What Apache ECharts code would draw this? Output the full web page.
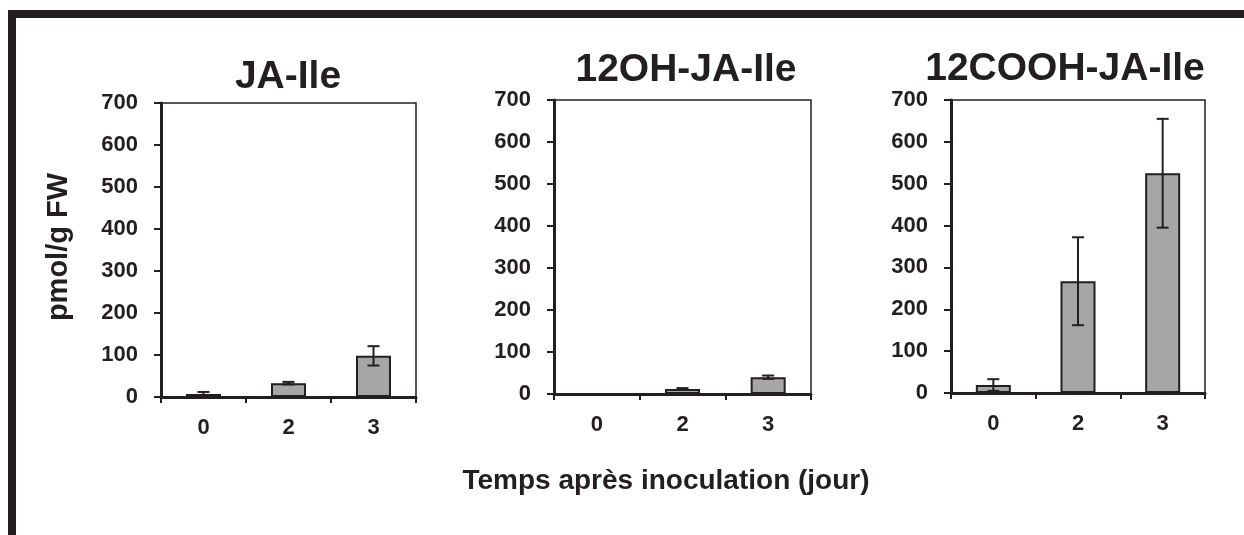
<!DOCTYPE html>
<html>
<head>
<meta charset="utf-8">
<script src="https://cdn.jsdelivr.net/npm/echarts@6/dist/echarts.min.js"></script>
<style>
html,body{margin:0;padding:0;background:#fff;}
#c{width:1244px;height:535px;}
</style>
</head>
<body>
<div id="c"></div>
<script>
const categories = ['0', '2', '3'];
const panelTitles = ['JA-Ile', '12OH-JA-Ile', '12COOH-JA-Ile'];
const jaIle = [7, 33, 98];
const jaIleErr = [5, 3, 23];
const oh = [0, 12, 40];
const ohErr = [0, 2, 4];
const cooh = [19, 267, 525];
const coohErr = [14, 105, 130];
const yTicks = [0, 100, 200, 300, 400, 500, 600, 700];

const values = [jaIle, oh, cooh];
const errors = [jaIleErr, ohErr, coohErr];

const ink = '#231f20';
const font = 'Liberation Sans, Arial, sans-serif';
const grids = [
  {left: 161, top: 103, width: 255, height: 294},
  {left: 554, top: 100, width: 257, height: 294},
  {left: 951, top: 100, width: 254, height: 293}
];
const titleCenters = [[283, 75], [681, 68], [1060, 67]];

const chart = echarts.init(document.getElementById('c'), null, {renderer: 'canvas'});

const option = {
  backgroundColor: '#fff',
  animation: false,
  title: panelTitles.map((t, i) => ({
    text: t,
    left: titleCenters[i][0],
    top: titleCenters[i][1] - 22,
    textAlign: 'center',
    textStyle: {fontFamily: font, fontWeight: 'bold', fontSize: 39, color: ink}
  })),
  grid: grids.map(g => Object.assign({show: true, borderColor: ink, borderWidth: 1.5, backgroundColor: 'transparent'}, g)),
  xAxis: grids.map((g, i) => ({
    type: 'category',
    gridIndex: i,
    data: categories,
    boundaryGap: true,
    axisLine: {lineStyle: {color: ink, width: 3}},
    axisTick: {show: true, length: 6, lineStyle: {color: ink, width: 2}},
    axisLabel: {margin: 20, fontFamily: font, fontWeight: 'bold', fontSize: 22, color: ink}
  })),
  yAxis: grids.map((g, i) => ({
    type: 'value',
    gridIndex: i,
    min: 0,
    max: 700,
    interval: 100,
    splitLine: {show: false},
    axisLine: {show: true, lineStyle: {color: ink, width: 3}},
    axisTick: {show: true, length: 7, lineStyle: {color: ink, width: 2}},
    axisLabel: {margin: 23, fontFamily: font, fontWeight: 'bold', fontSize: 22, color: ink,
      formatter: v => yTicks.includes(v) ? String(v) : ''}
  })),
  series: [],
  graphic: [
    {type: 'rect', shape: {x: 8, y: 10, width: 1236, height: 8}, style: {fill: ink}, z: 100},
    {type: 'rect', shape: {x: 8, y: 10, width: 8, height: 525}, style: {fill: ink}, z: 100},
    {type: 'text', x: 59, y: 247, rotation: Math.PI / 2,
      style: {text: 'pmol/g FW', fill: ink, font: 'bold 29px ' + font, align: 'center', verticalAlign: 'middle'}},
    {type: 'text', x: 666, y: 481,
      style: {text: 'Temps après inoculation (jour)', fill: ink, font: 'bold 28px ' + font, align: 'center', verticalAlign: 'middle'}}
  ]
};

values.forEach((vals, i) => {
  option.series.push({
    type: 'bar',
    xAxisIndex: i,
    yAxisIndex: i,
    data: vals,
    barWidth: 35,
    itemStyle: {color: '#a6a6a6', borderColor: ink, borderWidth: 2},
    z: 2
  });
  const errData = vals.map((v, j) => [j, v - errors[i][j], v + errors[i][j]]);
  option.series.push({
    type: 'custom',
    xAxisIndex: i,
    yAxisIndex: i,
    data: errData,
    z: 5,
    renderItem: function (params, api) {
      const x = api.value(0);
      const lo = api.coord([x, Math.max(0, api.value(1))]);
      const hi = api.coord([x, api.value(2)]);
      if (api.value(2) - api.value(1) <= 0) return null;
      const hw = 6;
      const st = {stroke: ink, lineWidth: 2};
      return {
        type: 'group',
        children: [
          {type: 'line', shape: {x1: lo[0], y1: lo[1], x2: hi[0], y2: hi[1]}, style: st},
          {type: 'line', shape: {x1: hi[0] - hw, y1: hi[1], x2: hi[0] + hw, y2: hi[1]}, style: st},
          {type: 'line', shape: {x1: lo[0] - hw, y1: lo[1], x2: lo[0] + hw, y2: lo[1]}, style: st}
        ]
      };
    }
  });
});

chart.setOption(option);
</script>
</body>
</html>
